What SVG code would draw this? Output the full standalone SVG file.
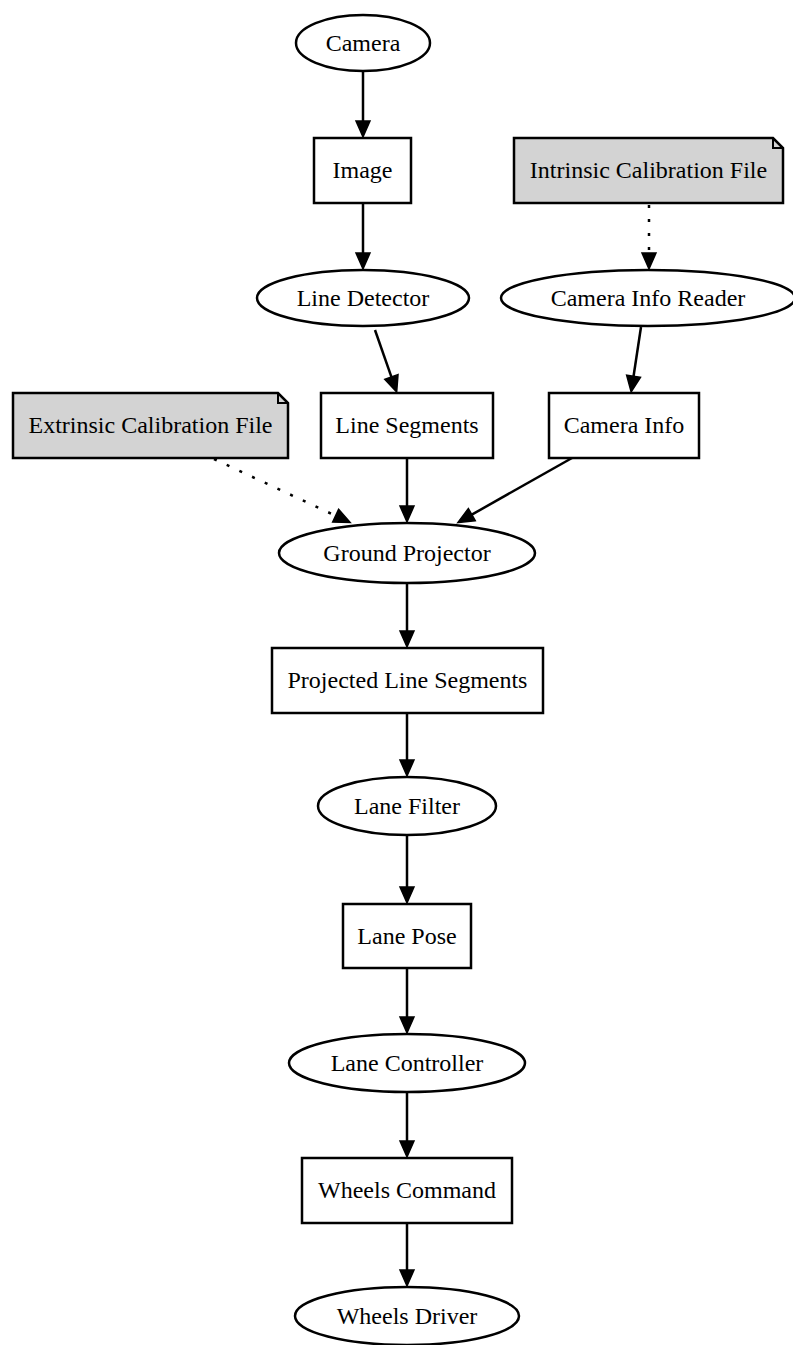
<svg xmlns="http://www.w3.org/2000/svg" width="793" height="1345" viewBox="0 0 793 1345">
  <style>
    .shape { fill: #ffffff; stroke: #000000; stroke-width: 2.5; }
    .note { fill: #d3d3d3; stroke: #000000; stroke-width: 2.5; stroke-linejoin: miter; }
    .fold { fill: none; stroke: #000000; stroke-width: 2; }
    .label { font-family: "Liberation Serif", "Times New Roman", serif; font-size: 24px; fill: #000000; text-anchor: middle; }
    .edge { fill: none; stroke: #000000; stroke-width: 2.5; }
    .dotted { stroke-dasharray: 3 11; }
  </style>
  <defs>
    <marker id="arrow" markerUnits="userSpaceOnUse" markerWidth="20" markerHeight="20" refX="0" refY="0" orient="auto" overflow="visible">
      <path d="M0,-7 L16,0 L0,7 Z" fill="#000000" stroke="#000000" stroke-width="1.5" stroke-linejoin="miter"/>
    </marker>
  </defs>

  <!-- connectors -->
  <g id="edges">
    <line class="edge" x1="363" y1="72" x2="363" y2="121" marker-end="url(#arrow)"/>
    <line class="edge" x1="363" y1="203" x2="363" y2="253" marker-end="url(#arrow)"/>
    <line class="edge dotted" x1="649" y1="205" x2="649" y2="253" marker-end="url(#arrow)"/>
    <line class="edge" x1="375" y1="330" x2="391.39" y2="376.95" marker-end="url(#arrow)"/>
    <line class="edge" x1="641" y1="327" x2="633.55" y2="376.19" marker-end="url(#arrow)"/>
    <line class="edge" x1="407" y1="458" x2="407" y2="506" marker-end="url(#arrow)"/>
    <line class="edge dotted" x1="214" y1="459" x2="335.63" y2="515.71" marker-end="url(#arrow)"/>
    <line class="edge" x1="572" y1="458" x2="471.81" y2="514.64" marker-end="url(#arrow)"/>
    <line class="edge" x1="407" y1="583" x2="407" y2="631" marker-end="url(#arrow)"/>
    <line class="edge" x1="407" y1="713" x2="407" y2="760" marker-end="url(#arrow)"/>
    <line class="edge" x1="407" y1="835" x2="407" y2="887" marker-end="url(#arrow)"/>
    <line class="edge" x1="407" y1="968" x2="407" y2="1017" marker-end="url(#arrow)"/>
    <line class="edge" x1="407" y1="1092" x2="407" y2="1141" marker-end="url(#arrow)"/>
    <line class="edge" x1="407" y1="1223" x2="407" y2="1270" marker-end="url(#arrow)"/>
  </g>

  <g id="camera">
    <ellipse class="shape" cx="363" cy="43" rx="67" ry="28"/>
    <text class="label" x="363" y="51">Camera</text>
  </g>

  <g id="image">
    <rect class="shape" x="314" y="138" width="97" height="65"/>
    <text class="label" x="362.5" y="178">Image</text>
  </g>

  <g id="intrinsic-calibration-file">
    <path class="note" d="M514,138 L773,138 L783,148 L783,203 L514,203 Z"/>
    <polyline class="fold" points="773,138 773,148 783,148"/>
    <text class="label" x="648.5" y="178">Intrinsic Calibration File</text>
  </g>

  <g id="line-detector">
    <ellipse class="shape" cx="363" cy="298" rx="106" ry="28"/>
    <text class="label" x="363" y="306">Line Detector</text>
  </g>

  <g id="camera-info-reader">
    <ellipse class="shape" cx="648" cy="298" rx="147" ry="28"/>
    <text class="label" x="648" y="306">Camera Info Reader</text>
  </g>

  <g id="extrinsic-calibration-file">
    <path class="note" d="M13,393 L278,393 L288,403 L288,458 L13,458 Z"/>
    <polyline class="fold" points="278,393 278,403 288,403"/>
    <text class="label" x="150.5" y="433">Extrinsic Calibration File</text>
  </g>

  <g id="line-segments">
    <rect class="shape" x="321" y="393" width="172" height="65"/>
    <text class="label" x="407" y="433">Line Segments</text>
  </g>

  <g id="camera-info">
    <rect class="shape" x="549" y="393" width="150" height="65"/>
    <text class="label" x="624" y="433">Camera Info</text>
  </g>

  <g id="ground-projector">
    <ellipse class="shape" cx="407" cy="553" rx="128" ry="30"/>
    <text class="label" x="407" y="561">Ground Projector</text>
  </g>

  <g id="projected-line-segments">
    <rect class="shape" x="272" y="648" width="271" height="65"/>
    <text class="label" x="407.5" y="688">Projected Line Segments</text>
  </g>

  <g id="lane-filter">
    <ellipse class="shape" cx="407" cy="806" rx="89" ry="29"/>
    <text class="label" x="407" y="814">Lane Filter</text>
  </g>

  <g id="lane-pose">
    <rect class="shape" x="343" y="904" width="128" height="64"/>
    <text class="label" x="407" y="944">Lane Pose</text>
  </g>

  <g id="lane-controller">
    <ellipse class="shape" cx="407" cy="1063" rx="118" ry="29"/>
    <text class="label" x="407" y="1071">Lane Controller</text>
  </g>

  <g id="wheels-command">
    <rect class="shape" x="302" y="1158" width="210" height="65"/>
    <text class="label" x="407" y="1198">Wheels Command</text>
  </g>

  <g id="wheels-driver">
    <ellipse class="shape" cx="407" cy="1316" rx="112" ry="29"/>
    <text class="label" x="407" y="1324">Wheels Driver</text>
  </g>
</svg>
